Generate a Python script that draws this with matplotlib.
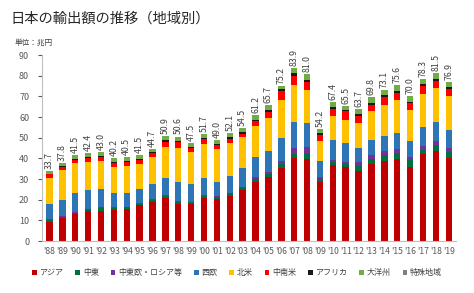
import matplotlib
matplotlib.use("Agg")
import matplotlib.pyplot as plt
import numpy as np

plt.rcParams['font.family'] = ['Noto Sans CJK JP', 'DejaVu Sans']

# years and totals (trillion yen)
years = ["'88", "'89", "'90", "'91", "'92", "'93", "'94", "'95", "'96", "'97",
         "'98", "'99", "'00", "'01", "'02", "'03", "'04", "'05", "'06", "'07",
         "'08", "'09", "'10", "'11", "'12", "'13", "'14", "'15", "'16", "'17",
         "'18", "'19"]
totals = [33.7, 37.8, 41.5, 42.4, 43.0, 40.2, 40.5, 41.5, 44.7, 50.9,
          50.6, 47.5, 51.7, 49.0, 52.1, 54.5, 61.2, 65.7, 75.2, 83.9,
          81.0, 54.2, 67.4, 65.5, 63.7, 69.8, 73.1, 75.6, 70.0, 78.3,
          81.5, 76.9]

# regions, bottom to top
asia = [9.4, 11.0, 13.1, 14.5, 14.7, 15.0, 15.5, 17.3, 19.1, 21.0,
        17.8, 17.8, 21.0, 20.2, 21.8, 24.8, 28.8, 30.9, 35.3, 40.1,
        39.8, 28.5, 36.9, 35.8, 34.1, 37.2, 38.8, 39.8, 36.1, 42.1,
        43.8, 40.4]
middle_east = [0.6, 0.6, 0.6, 0.9, 1.3, 1.0, 0.8, 0.7, 0.8, 0.9,
               1.1, 0.9, 0.9, 1.1, 1.3, 1.0, 1.2, 1.6, 2.0, 2.1,
               2.6, 1.8, 1.5, 1.6, 2.3, 2.4, 2.9, 2.8, 3.2, 2.1,
               2.5, 2.5]
ce_russia = [0.6, 0.4, 0.3, 0.3, 0.3, 0.3, 0.3, 0.3, 0.4, 0.5,
             0.4, 0.3, 0.3, 0.3, 0.4, 0.6, 0.8, 1.0, 1.5, 2.8,
             2.9, 0.8, 1.0, 1.1, 1.8, 2.1, 2.1, 1.9, 1.6, 1.9,
             2.2, 2.1]
w_europe = [7.2, 7.9, 9.2, 9.1, 8.9, 7.0, 6.8, 6.9, 7.4, 8.0,
            9.5, 8.5, 8.2, 7.2, 8.2, 8.9, 10.1, 10.3, 11.3, 12.4,
            11.8, 7.7, 9.6, 8.9, 6.8, 7.0, 7.3, 7.8, 7.6, 8.9,
            9.1, 8.9]
n_america = [12.6, 14.6, 14.5, 13.7, 13.6, 12.8, 13.0, 12.0, 12.9, 15.1,
             16.2, 15.4, 16.7, 15.7, 16.0, 14.9, 14.9, 15.8, 18.3, 18.3,
             15.9, 9.7, 11.3, 11.3, 12.1, 14.1, 14.9, 16.1, 15.1, 16.4,
             16.5, 16.1]
latin_america = [1.9, 1.4, 1.5, 1.7, 2.1, 1.8, 1.8, 2.0, 2.0, 2.6,
                 2.8, 2.1, 2.2, 2.2, 1.9, 1.8, 2.1, 3.0, 4.1, 4.1,
                 3.9, 3.0, 3.6, 4.1, 3.6, 3.2, 3.8, 3.3, 3.2, 3.5,
                 3.2, 3.6]
africa = [0.4, 0.5, 0.5, 0.5, 0.5, 0.5, 0.5, 0.5, 0.4, 0.6,
          0.6, 0.6, 0.6, 0.5, 0.6, 0.6, 0.7, 0.8, 0.9, 1.3,
          1.2, 0.6, 0.8, 0.7, 0.7, 1.0, 0.8, 1.0, 0.7, 0.9,
          0.9, 0.8]
oceania = [1.0, 1.4, 1.8, 1.7, 1.6, 1.8, 1.8, 1.8, 1.7, 2.2,
           2.2, 1.9, 1.8, 1.8, 1.9, 1.9, 2.6, 2.3, 1.8, 2.8,
           2.9, 2.1, 2.7, 2.0, 2.3, 2.8, 2.5, 2.9, 2.5, 2.5,
           3.3, 2.5]
special = [0.0] * 32

labels = ['アジア', '中東', '中東欧・ロシア等', '西欧', '北米', '中南米',
          'アフリカ', '大洋州', '特殊地域']
series = [asia, middle_east, ce_russia, w_europe, n_america, latin_america,
          africa, oceania, special]
colors = ['#C00000', '#00703C', '#7030A0', '#2E75B6', '#FFC000', '#FF0000',
          '#1A1A1A', '#70AD47', '#808080']

fig = plt.figure(figsize=(4.74, 2.93), dpi=100)
ax = fig.add_axes([0.088, 0.177, 0.875, 0.635])

x = np.arange(len(years))
bottom = np.zeros(len(years))
for vals, lab, col in zip(series, labels, colors):
    ax.bar(x, vals, 0.5, bottom=bottom, color=col, label=lab)
    bottom += np.array(vals)

# total labels above bars
for xi, t in zip(x, totals):
    ax.text(xi, t + 1.0, f'{t:.1f}', rotation=90, ha='center', va='bottom',
            fontsize=6.3, color='#404040')

ax.set_xlim(-0.6, len(years) - 0.4)
ax.set_ylim(0, 90)
ax.set_yticks(range(0, 91, 10))
ax.set_xticks(x)
ax.set_xticklabels(years)
ax.tick_params(axis='x', length=0, labelsize=6.2, colors='#595959', pad=4)
ax.tick_params(axis='y', length=3, labelsize=6.5, colors='#595959', pad=6)
for s in ['top', 'right']:
    ax.spines[s].set_visible(False)
for s in ['left', 'bottom']:
    ax.spines[s].set_color('#BFBFBF')
    ax.spines[s].set_linewidth(0.8)

fig.text(0.022, 0.935, '日本の輸出額の推移（地域別）', fontsize=10.3,
         color='#262626', va='center')
fig.text(0.03, 0.855, '単位：兆円', fontsize=5.5, color='#404040', va='center')

fig.legend(loc='center', bbox_to_anchor=(0.5, 0.07), ncol=9, frameon=False,
           fontsize=5.8, handlelength=0.6, handleheight=0.6, handletextpad=0.35,
           columnspacing=1.45, labelcolor='#404040')

fig.savefig('out.png', dpi=100)
